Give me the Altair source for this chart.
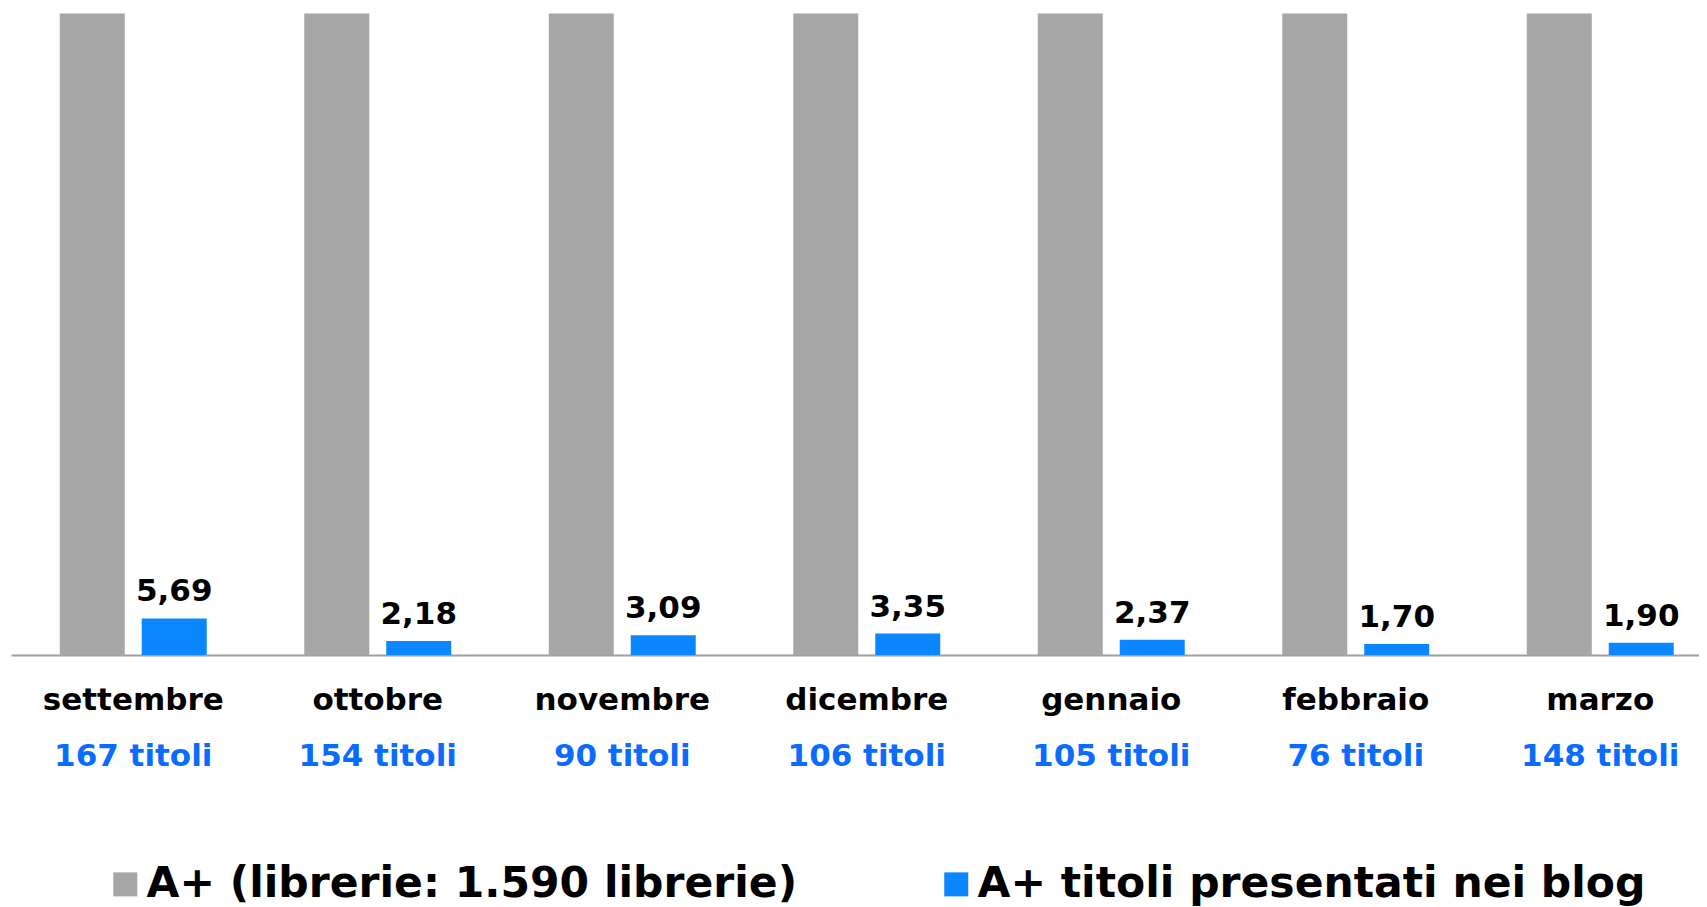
import altair as alt
import pandas as pd

months = ["settembre", "ottobre", "novembre", "dicembre", "gennaio", "febbraio", "marzo"]
titoli = ["167 titoli", "154 titoli", "90 titoli", "106 titoli", "105 titoli", "76 titoli", "148 titoli"]
librerie = [100, 100, 100, 100, 100, 100, 100]
blog = [5.69, 2.18, 3.09, 3.35, 2.37, 1.70, 1.90]
series_names = ["A+ (librerie: 1.590 librerie)", "A+ titoli presentati nei blog"]
colors = ["#a6a6a6", "#0a86ff"]

rows = []
for i, m in enumerate(months):
    rows.append({"mese": m, "serie": series_names[0], "valore": librerie[i], "etichetta": ""})
    rows.append({"mese": m, "serie": series_names[1], "valore": blog[i],
                 "etichetta": f"{blog[i]:.2f}".replace(".", ",")})
df = pd.DataFrame(rows)
lab = pd.DataFrame({"mese": months, "titoli": titoli})

FONT = "DejaVu Sans"

x = alt.X("mese:N", sort=months,
          scale=alt.Scale(range=[3, 1714.5], paddingInner=0, paddingOuter=0),
          axis=alt.Axis(labels=False, ticks=False, title=None, grid=False,
                        domainColor="#a0a0a0", domainWidth=2))
xo = alt.XOffset("serie:N", sort=series_names,
                 scale=alt.Scale(paddingInner=0.207, paddingOuter=0.595))
y = alt.Y("valore:Q", scale=alt.Scale(domain=[0, 100.86], nice=False, zero=True), axis=None)

bars = alt.Chart(df).mark_bar().encode(
    x=x, xOffset=xo, y=y,
    color=alt.Color("serie:N", sort=series_names,
                    scale=alt.Scale(domain=series_names, range=colors),
                    legend=alt.Legend(orient="none", legendX=96, legendY=855,
                                      direction="horizontal", title=None,
                                      symbolType="square", symbolSize=576,
                                      symbolStrokeWidth=0, symbolOpacity=1,
                                      labelFont=FONT, labelFontWeight="bold",
                                      labelFontSize=42.5, labelColor="#000000",
                                      labelOffset=0, columnPadding=137,
                                      labelLimit=2000, padding=0)),
)

values = alt.Chart(df).transform_filter(
    alt.datum.serie == series_names[1]
).mark_text(font=FONT, fontWeight="bold", fontSize=31, baseline="alphabetic",
            dy=-17, color="#000000").encode(
    x=x, xOffset=xo, y=y, text="etichetta:N"
)

month_text = alt.Chart(lab).mark_text(font=FONT, fontWeight="bold", fontSize=31,
                                      baseline="alphabetic", color="#000000").encode(
    x=alt.X("mese:N", sort=months), y=alt.value(702), text="mese:N"
)
titoli_text = alt.Chart(lab).mark_text(font=FONT, fontWeight="bold", fontSize=31,
                                       baseline="alphabetic", color="#0a6cff").encode(
    x=alt.X("mese:N", sort=months), y=alt.value(758), text="titoli:N"
)

chart = alt.layer(bars, values, month_text, titoli_text).properties(
    width=1691, height=647,
    autosize=alt.AutoSizeParams(type="none"),
    padding={"left": 0, "top": 0, "right": 0, "bottom": 252},
).configure(font=FONT).configure_view(stroke=None)

chart.save("out.html", embed_options={"renderer": "svg", "actions": False})
